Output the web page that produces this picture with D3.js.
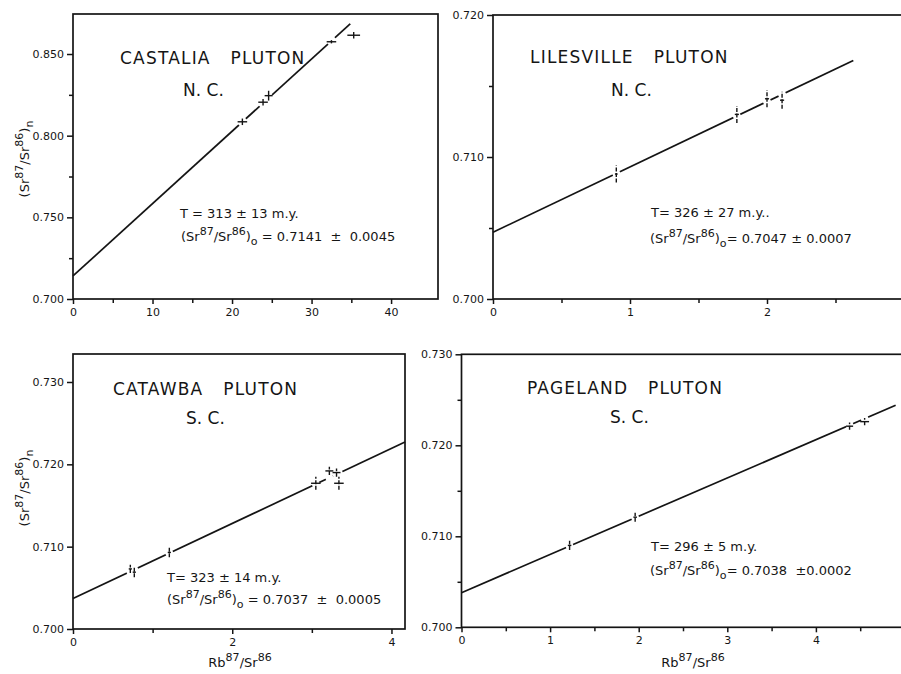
<!DOCTYPE html>
<html>
<head>
<meta charset="utf-8">
<script src="https://cdnjs.cloudflare.com/ajax/libs/d3/7.8.5/d3.min.js"></script>
<style>
  body { margin: 0; background: #fff; overflow: hidden; }
  svg { display: block; }
  text { font-family: "DejaVu Sans", sans-serif; fill: #151515; white-space: pre; }
</style>
</head>
<body>
<script>

// Castalia pluton, N.C.
var castaliaRb = [21.3, 23.9, 24.6, 32.5, 35.3]
var castaliaSr = [0.8085, 0.8205, 0.8245, 0.8575, 0.8615]
var castaliaErrRb = [0.6, 0.6, 0.5, 0.6, 0.8]
var castaliaErrSr = [0.002, 0.002, 0.003, 0.001, 0.002]
var castaliaLine = [[0, 0.7141], [35.2, 0.8700]]

// Lilesville pluton, N.C.
var lilesRb = [0.90, 1.78, 2.00, 2.11]
var lilesSr = [0.7088, 0.7130, 0.7141, 0.7140]
var lilesErrRb = [0.01, 0.015, 0.015, 0.015]
var lilesErrSr = [0.0006, 0.0006, 0.0006, 0.0006]
var lilesLine = [[0, 0.7047], [2.63, 0.7168]]

// Catawba pluton, S.C.
var catawbaRb = [0.72, 0.77, 1.21, 3.05, 3.22, 3.31, 3.34]
var catawbaSr = [0.7073, 0.7069, 0.7093, 0.7177, 0.7192, 0.7190, 0.7177]
var catawbaErrRb = [0.02, 0.02, 0.02, 0.06, 0.05, 0.05, 0.06]
var catawbaErrSr = [0.0005, 0.0006, 0.0006, 0.0008, 0.0005, 0.0005, 0.0008]
var catawbaLine = [[0, 0.7037], [4.17, 0.7227]]

// Pageland pluton, S.C.
var pagelandRb = [1.22, 1.96, 4.38, 4.55]
var pagelandSr = [0.7090, 0.7121, 0.7221, 0.7226]
var pagelandErrRb = [0.02, 0.02, 0.04, 0.05]
var pagelandErrSr = [0.0005, 0.0005, 0.0004, 0.0004]
var pagelandLine = [[0, 0.7038], [4.9, 0.7244]]

// tick values
var castaliaXTicks = [0, 10, 20, 30, 40], castaliaXMinor = [5, 15, 25, 35]
var castaliaYTicks = [0.700, 0.750, 0.800, 0.850], castaliaYMinor = [0.725, 0.775, 0.825]
var lilesXTicks = [0, 1, 2, 3], lilesXMinor = [0.5, 1.5, 2.5]
var lilesYTicks = [0.700, 0.710, 0.720], lilesYMinor = [0.705, 0.715]
var catawbaXTicks = [0, 2, 4], catawbaXMinor = [1, 3]
var catawbaYTicks = [0.700, 0.710, 0.720, 0.730], catawbaYMinor = []
var pagelandXTicks = [0, 1, 2, 3, 4, 5], pagelandXMinor = [0.5, 1.5, 2.5, 3.5, 4.5]
var pagelandYTicks = [0.700, 0.710, 0.720, 0.730], pagelandYMinor = [0.705, 0.715, 0.725]

// panel texts
var titles = ['CASTALIA   PLUTON', 'LILESVILLE   PLUTON', 'CATAWBA   PLUTON', 'PAGELAND   PLUTON']
var states = ['N. C.', 'N. C.', 'S. C.', 'S. C.']
var ages = ['T = 313 \u00b1 13 m.y.', 'T= 326 \u00b1 27 m.y..', 'T= 323 \u00b1 14 m.y.', 'T= 296 \u00b1 5 m.y.']
var initials = [' = 0.7141  \u00b1  0.0045', '= 0.7047 \u00b1 0.0007', ' = 0.7037  \u00b1  0.0005', '= 0.7038  \u00b10.0002']


var svg = d3.select("body").append("svg")
  .attr("width", 901)
  .attr("height", 674)

var ink = '#141414'

// layout of the four plots (pixels)
var panels = [
  { rb: castaliaRb, sr: castaliaSr, eRb: castaliaErrRb, eSr: castaliaErrSr, line: castaliaLine,
    xT: castaliaXTicks, xM: castaliaXMinor, yT: castaliaYTicks, yM: castaliaYMinor,
    xDom: [0, 45.9], xRange: [73, 438], yDom: [0.700, 0.8745], yRange: [299, 14], boxRight: 438,
    title: [120, 64], state: [183, 96], age: [180, 218], init: [181, 241], ylab: [29, 159] },
  { rb: lilesRb, sr: lilesSr, eRb: lilesErrRb, eSr: lilesErrSr, line: lilesLine,
    xT: lilesXTicks, xM: lilesXMinor, yT: lilesYTicks, yM: lilesYMinor,
    xDom: [0, 3], xRange: [493, 904], yDom: [0.700, 0.720], yRange: [299, 15], boxRight: 920,
    title: [530, 63], state: [611, 96], age: [651, 217], init: [650, 243] },
  { rb: catawbaRb, sr: catawbaSr, eRb: catawbaErrRb, eSr: catawbaErrSr, line: catawbaLine,
    xT: catawbaXTicks, xM: catawbaXMinor, yT: catawbaYTicks, yM: catawbaYMinor,
    xDom: [0, 4.17], xRange: [73, 405], yDom: [0.700, 0.7334], yRange: [629, 354], boxRight: 405,
    title: [113, 395], state: [186, 424], age: [167, 582], init: [167, 604], ylab: [29, 488], xlab: [240, 667] },
  { rb: pagelandRb, sr: pagelandSr, eRb: pagelandErrRb, eSr: pagelandErrSr, line: pagelandLine,
    xT: pagelandXTicks, xM: pagelandXMinor, yT: pagelandYTicks, yM: pagelandYMinor,
    xDom: [0, 5], xRange: [461.5, 904.5], yDom: [0.700, 0.730], yRange: [627.3, 354.3], boxRight: 920,
    title: [527, 394], state: [610, 423], age: [651, 551], init: [650, 575], xlab: [693, 667] }
]

// writes text pieces with superscripts / subscripts as tspans
function richText(sel, parts, size) {
  var shift = 0
  parts.forEach(function(p) {
    var want = 0, fs = size
    if (p[1] === 'sup') { want = -size * 0.48; fs = size * 0.85 }
    if (p[1] === 'sub') { want = size * 0.32; fs = size * 0.85 }
    sel.append('tspan')
      .attr('dy', want - shift)
      .attr('font-size', fs)
      .text(p[0])
    shift = want
  })
}

function srRatio(tail) {
  return [['(Sr', 0], ['87', 'sup'], ['/Sr', 0], ['86', 'sup'], [')', 0], [tail, 'sub']]
}

function drawPanel(p, i) {
  var x = d3.scaleLinear().domain(p.xDom).range(p.xRange)
  var y = d3.scaleLinear().domain(p.yDom).range(p.yRange)
  var g = svg.append('g')

  var left = p.xRange[0], top = p.yRange[1], bottom = p.yRange[0]

  // frame
  g.append('rect')
    .attr('x', left).attr('y', top)
    .attr('width', p.boxRight - left).attr('height', bottom - top)
    .attr('fill', 'none').attr('stroke', ink).attr('stroke-width', 1.7)

  // axes
  var gx = g.append('g').attr('transform', 'translate(0,' + bottom + ')')
    .call(d3.axisBottom(x).tickValues(p.xT).tickSize(5).tickPadding(4).tickFormat(d3.format('d')))
  var gxm = g.append('g').attr('transform', 'translate(0,' + bottom + ')')
    .call(d3.axisBottom(x).tickValues(p.xM).tickSize(4).tickFormat(''))
  var gy = g.append('g').attr('transform', 'translate(' + left + ',0)')
    .call(d3.axisLeft(y).tickValues(p.yT).tickSize(6).tickPadding(3).tickFormat(d3.format('.3f')))
  var gym = g.append('g').attr('transform', 'translate(' + left + ',0)')
    .call(d3.axisLeft(y).tickValues(p.yM).tickSize(4).tickFormat(''))

  ;[gx, gxm, gy, gym].forEach(function(a) {
    a.select('.domain').remove()
    a.selectAll('line').attr('stroke', ink).attr('stroke-width', 1.5)
    a.selectAll('text').attr('font-family', '"DejaVu Sans", sans-serif')
      .attr('font-size', 11).attr('fill', ink)
  })

  // isochron
  var lineGenerator = d3.line()
    .x(function(d) { return x(d[0]) })
    .y(function(d) { return y(d[1]) })

  g.append('path')
    .datum(p.line)
    .attr('d', lineGenerator)
    .attr('fill', 'none').attr('stroke', ink).attr('stroke-width', 1.7)

  // little breaks in the line around each analysis
  var slope = (p.line[1][1] - p.line[0][1]) / (p.line[1][0] - p.line[0][0])
  var gap = (p.xDom[1] - p.xDom[0]) / (p.xRange[1] - p.xRange[0]) * 3.5
  p.rb.forEach(function(r) {
    var a = r - gap, b = r + gap
    g.append('path')
      .datum([[a, p.line[0][1] + slope * a], [b, p.line[0][1] + slope * b]])
      .attr('d', lineGenerator)
      .attr('stroke', '#fff').attr('stroke-width', 3.5)
  })

  // analyses with error bars
  var pts = g.selectAll('.pt').data(p.rb.map(function(r, k) {
    return { rb: r, sr: p.sr[k], eRb: p.eRb[k], eSr: p.eSr[k] }
  })).enter().append('g').attr('class', 'pt')

  pts.append('line')
    .attr('x1', function(d) { return x(d.rb - d.eRb) })
    .attr('x2', function(d) { return x(d.rb + d.eRb) })
    .attr('y1', function(d) { return y(d.sr) })
    .attr('y2', function(d) { return y(d.sr) })
    .attr('stroke', ink).attr('stroke-width', 1.4)

  pts.append('line')
    .attr('x1', function(d) { return x(d.rb) })
    .attr('x2', function(d) { return x(d.rb) })
    .attr('y1', function(d) { return y(d.sr - d.eSr) })
    .attr('y2', function(d) { return y(d.sr + d.eSr) })
    .attr('stroke', ink).attr('stroke-width', 1.4)
    .attr('stroke-dasharray', i === 0 ? null : '4,1.5')

  // labels
  g.append('text').attr('x', p.title[0]).attr('y', p.title[1])
    .attr('font-size', 17).attr('letter-spacing', 1.2).text(titles[i])
  g.append('text').attr('x', p.state[0]).attr('y', p.state[1])
    .attr('font-size', 17).text(states[i])
  g.append('text').attr('x', p.age[0]).attr('y', p.age[1])
    .attr('font-size', 13).text(ages[i])
  var t = g.append('text').attr('x', p.init[0]).attr('y', p.init[1]).attr('font-size', 13)
  richText(t, srRatio('o').concat([[initials[i], 0]]), 13)

  if (p.ylab) {
    var yl = g.append('text')
      .attr('transform', 'translate(' + p.ylab[0] + ',' + p.ylab[1] + ') rotate(-90)')
      .attr('text-anchor', 'middle').attr('font-size', 13)
    richText(yl, srRatio('n'), 13)
  }
  if (p.xlab) {
    var xl = g.append('text').attr('x', p.xlab[0]).attr('y', p.xlab[1])
      .attr('text-anchor', 'middle').attr('font-size', 13)
    richText(xl, [['Rb', 0], ['87', 'sup'], ['/Sr', 0], ['86', 'sup']], 13)
  }

  return { x: x, y: y }
}

var scales = panels.map(drawPanel)

// faint edge of the scanned sheet at the right of the lower-right plot
var s4 = scales[3]
svg.append('line')
  .attr('x1', s4.x(4.98)).attr('x2', s4.x(4.98))
  .attr('y1', s4.y(0.7260)).attr('y2', s4.y(0.7023))
  .attr('stroke', '#b8b8b8').attr('stroke-width', 2)

</script>
</body>
</html>
